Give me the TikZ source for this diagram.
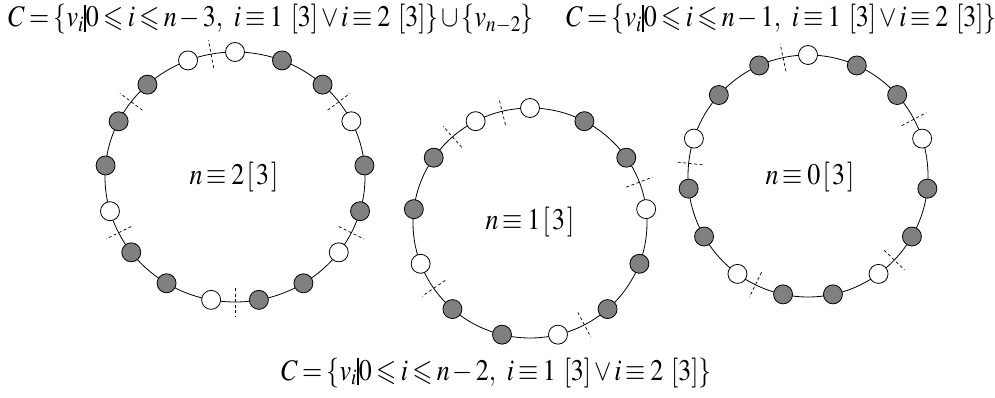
\documentclass[tikz,border=0pt]{standalone}
\usepackage{graphicx}
\usepackage{mathptmx}
\usepackage{amssymb}
\newcommand{\heavybar}{\mathord{\vrule width 1.8pt height 19pt depth 4.5pt}}
\newcommand{\tightspacing}{\thickmuskip=3mu\relax\medmuskip=2mu\relax}
\newcommand{\modbr}[1]{[\mkern1.5mu#1\mkern1.5mu]}
\newcommand{\tallmath}[1]{\scalebox{1}[1.15]{\tightspacing$#1$}}
\begin{document}
\begin{tikzpicture}[x=1pt,y=-1pt,
 ring/.style={draw, line width=0.8pt},
 wv/.style={circle, draw, fill=white, minimum size=19pt, inner sep=0pt, line width=0.8pt},
 gv/.style={wv, fill=gray},
 cut/.style={dash pattern=on 3pt off 2.5pt, line width=0.7pt},
 formula/.style={inner sep=0pt, anchor=base west, font=\fontsize{26}{30}\selectfont},
 lab/.style={inner sep=0pt, font=\fontsize{26}{30}\selectfont}]
\useasboundingbox (0,0) rectangle (995,398);
% ---- ring 1: n = 2 [3], 17 vertices
\draw[ring] (235,177) ellipse [x radius=130, y radius=125];
\foreach \t in {100.6,143,37,-26.5,-90,-153.5}
  \draw[cut] ({235+116*cos(\t)},{177-111*sin(\t)}) -- ({235+144*cos(\t)},{177-139*sin(\t)});
\foreach \k/\s in {0/wv,1/gv,2/gv,3/wv,4/gv,5/gv,6/wv,7/gv,8/gv,9/wv,10/gv,11/gv,12/wv,13/gv,14/gv,15/gv,16/wv}{
  \pgfmathsetmacro\t{90-\k*360/17}
  \node[\s] (a\k) at ({235+130*cos(\t)},{177-125*sin(\t)}) {};
}
\node[lab] (la) at (234,177) {\tallmath{n\equiv2\mkern1.5mu\modbr{3}}};
% ---- ring 2: n = 1 [3], 13 vertices
\draw[ring] (530,223) ellipse [x radius=117, y radius=115];
\foreach \t in {103.8,131.5,20.8,-62.3,-145.4}
  \draw[cut] ({530+103*cos(\t)},{223-101*sin(\t)}) -- ({530+131*cos(\t)},{223-129*sin(\t)});
\foreach \k/\s in {0/wv,1/gv,2/gv,3/wv,4/gv,5/gv,6/wv,7/gv,8/gv,9/wv,10/gv,11/gv,12/wv}{
  \pgfmathsetmacro\t{90-\k*360/13}
  \node[\s] (b\k) at ({530+117*cos(\t)},{223-115*sin(\t)}) {};
}
\node[lab] (lb) at (530,222) {\tallmath{n\equiv1\mkern1.5mu\modbr{3}}};
% ---- ring 3: n = 0 [3], 15 vertices
\draw[ring] (808,176) ellipse [x radius=120, y radius=121];
\foreach \t in {102,28,-44,-116,174}
  \draw[cut] ({808+106*cos(\t)},{176-107*sin(\t)}) -- ({808+134*cos(\t)},{176-135*sin(\t)});
\foreach \k/\s in {0/wv,1/gv,2/gv,3/wv,4/gv,5/gv,6/wv,7/gv,8/gv,9/wv,10/gv,11/gv,12/wv,13/gv,14/gv}{
  \pgfmathsetmacro\t{90-\k*360/15}
  \node[\s] (c\k) at ({808+120*cos(\t)},{176-121*sin(\t)}) {};
}
\node[lab] (lc) at (810,177) {\tallmath{n\equiv0\mkern1.5mu\modbr{3}}};
% ---- formulas
\node[formula] (f1) at (8,27) {\tallmath{C=\{v_i\heavybar0\leqslant i\leqslant n-3,\ i\equiv1\ [3]\vee i\equiv2\ [3]\}\cup\{v_{n-2}\}}};
\node[formula] (f2) at (566,27) {\tallmath{C=\{v_i\heavybar0\leqslant i\leqslant n-1,\ i\equiv1\ [3]\vee i\equiv2\ [3]\}}};
\node[formula] (f3) at (281,380) {\tallmath{C=\{v_i\heavybar0\leqslant i\leqslant n-2,\ i\equiv1\ [3]\vee i\equiv2\ [3]\}}};
\end{tikzpicture}
\end{document}
